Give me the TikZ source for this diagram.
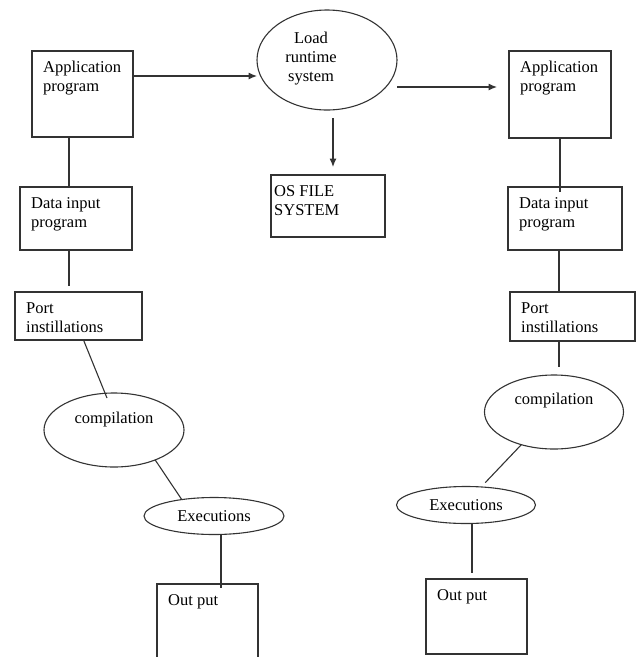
\documentclass[tikz,border=0pt]{standalone}
\usepackage{fontspec}
\setmainfont{Liberation Serif}
\usetikzlibrary{arrows.meta,positioning,shapes.geometric}

\begin{document}
\begin{tikzpicture}[
  x=1pt, y=-1pt,
  font=\rmfamily\fontsize{16.5}{19}\selectfont,
  >={Latex[length=8.5pt,width=7pt]},
  stage/.style={
    draw=black!80,
    line width=1.1pt,
    anchor=north west,
    inner sep=0pt,
    outer sep=0pt
  },
  stagetext/.style={
    anchor=north west,
    inner sep=0pt,
    align=left,
    xshift=11pt,
    yshift=-10pt
  },
  oval/.style={
    ellipse,
    draw=black!80,
    line width=1.1pt,
    inner sep=0pt,
    outer sep=0pt
  },
  ovaltext/.style={anchor=center,inner sep=0pt,align=center},
  link/.style={draw=black!80,line width=1.1pt},
  flow/.style={->,link}
]
  \useasboundingbox (0,0) rectangle (641,657);

  \node[oval,minimum width=140pt,minimum height=100pt,
    label={[ovaltext,xshift=-16pt,yshift=-49pt]north:Load\\runtime\\system}] (load) at (327,60) {};

  \node[stage,minimum width=114pt,minimum height=62pt,
    label={[stagetext,xshift=-8pt]north west:OS FILE\\SYSTEM}] (osfs) at (271,175) {};

  \node[stage,minimum width=101pt,minimum height=86pt,
    label={[stagetext]north west:Application\\program}] (appL) at (32,51) {};

  \node[stage,minimum width=112pt,minimum height=63pt,
    label={[stagetext]north west:Data input\\program}] (dataL) at (20,187) {};

  \node[stage,minimum width=127pt,minimum height=48pt,
    label={[stagetext]north west:Port\\instillations}] (portL) at (15,292) {};

  \node[oval,minimum width=140pt,minimum height=74pt,
    label={[ovaltext,yshift=-27pt]north:compilation}] (compL) at (114,430) {};

  \node[oval,minimum width=140pt,minimum height=37pt] (execL) at (214,516) {Executions};

  \node[stage,minimum width=101pt,minimum height=75pt,
    label={[stagetext]north west:Out put}] (outL) at (157,584) {};

  \node[stage,minimum width=102pt,minimum height=87pt,
    label={[stagetext]north west:Application\\program}] (appR) at (509,51) {};

  \node[stage,minimum width=114pt,minimum height=63pt,
    label={[stagetext]north west:Data input\\program}] (dataR) at (508,187) {};

  \node[stage,minimum width=125pt,minimum height=49pt,
    label={[stagetext]north west:Port\\instillations}] (portR) at (510,292) {};

  \node[oval,minimum width=139pt,minimum height=74pt,
    label={[ovaltext,yshift=-26pt]north:compilation}] (compR) at (554,412) {};

  \node[oval,minimum width=139pt,minimum height=37pt] (execR) at (466,505) {Executions};

  \node[stage,minimum width=101pt,minimum height=75pt,
    label={[stagetext]north west:Out put}] (outR) at (426,579) {};

  \draw[flow] ([yshift=18pt]appL.east) -- ([yshift=18pt]appL.east -| load.west);
  \draw[flow] ([yshift=-27pt]load.east) -- ([yshift=-27pt,xshift=-12pt]load.east -| appR.west);
  \draw[flow,shorten <=8pt,shorten >=8pt] ([xshift=6pt]load.south) -- ([xshift=6pt]load.south |- osfs.north);

  \draw[link] ([xshift=-13.5pt]appL.south) -- ([xshift=-13.5pt]appL.south |- dataL.north);
  \draw[link,shorten >=6pt] ([xshift=-7pt]dataL.south) -- ([xshift=-7pt]dataL.south |- portL.north);
  \draw[link] ([xshift=5pt]portL.south) -- ([xshift=-7pt,yshift=-5pt]compL.north);
  \draw[link] (compL.-36) -- (execL.153);
  \draw[link] ([xshift=7pt]execL.south) -- ([xshift=7pt,yshift=-4pt]execL.south |- outL.north);

  \draw[link] (appR.south) -- ([yshift=-5pt]appR.south |- dataR.north);
  \draw[link] ([xshift=-6pt]dataR.south) -- ([xshift=-6pt]dataR.south |- portR.north);
  \draw[link,shorten >=8pt] ([xshift=-13.5pt]portR.south) -- ([xshift=-13.5pt]portR.south |- compR.north);
  \draw[link,shorten >=6pt] (compR.225) -- (execR.50);
  \draw[link,shorten >=6pt] ([xshift=6pt]execR.south) -- ([xshift=6pt]execR.south |- outR.north);
\end{tikzpicture}
\end{document}
